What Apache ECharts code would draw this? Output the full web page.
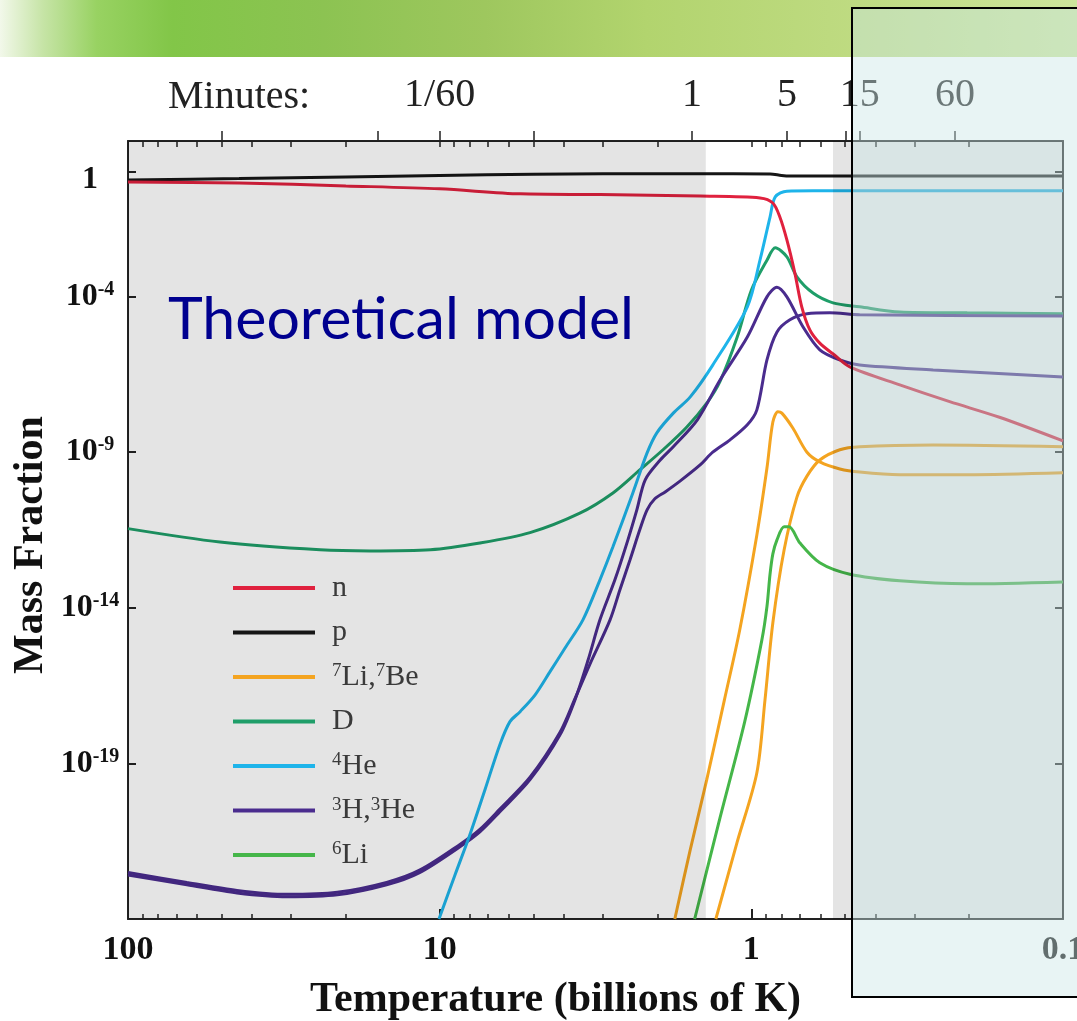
<!DOCTYPE html>
<html><head><meta charset="utf-8">
<script src="https://cdn.jsdelivr.net/npm/echarts@6/dist/echarts.min.js"></script>
<style>html,body{margin:0;padding:0;background:#fff}#c{width:1077px;height:1021px}</style>
</head><body><div id="c"></div>
<script>
// ---- axis ticks / labels ----
const tempTickValues = [100, 10, 1, 0.1];
const tempTickLabels = ['100', '10', '1', '0.1'];
const tempMinorTicks = [90,80,70,60,50,40,30,20, 9,8,7,6,5,4,3,2, 0.9,0.8,0.7,0.6,0.5,0.4,0.3,0.2];
const massTickValues = [1, 1e-4, 1e-9, 1e-14, 1e-19];
const massTickExponents = ['', '-4', '-9', '-14', '-19'];
const minuteLabels = ['1/60', '1', '5', '15', '60'];
const minuteTemps = [10.0, 1.55, 0.769, 0.449, 0.222];
const minuteMinorTemps = [49.9, 15.8, 4.98, 0.498];
const shadeBands = [[100, 1.4], [0.547, 0.1]];

// ---- series: [temperature (GK), mass fraction] ----
const nData = [[100,0.48],[44,0.45],[20,0.36],[10,0.29],[5.5,0.2],[3.06,0.19],[1.46,0.17],[0.938,0.148],[0.853,0.102],[0.81,0.036],[0.769,6.6e-3],[0.725,5.7e-4],[0.689,4.7e-5],[0.649,8.5e-6],[0.603,3.2e-6],[0.54,1.3e-6],[0.483,5.5e-7],[0.334,1.45e-7],[0.231,4.2e-8],[0.159,1.3e-8],[0.1,2.3e-9]];
const pData = [[100,0.56],[44,0.62],[20,0.7],[10,0.78],[5,0.85],[3,0.88],[1.5,0.88],[0.87,0.87],[0.8,0.78],[0.75,0.75],[0.1,0.75]];
const li7aData = [[1.76,1e-24],[1.57,1.7e-22],[1.39,3.0e-20],[1.22,1.1e-17],[1.09,1.9e-15],[0.96,2.2e-12],[0.891,3.1e-10],[0.853,9.3e-9],[0.822,2.0e-8],[0.798,1.8e-8],[0.736,6.0e-9],[0.663,1.0e-9],[0.603,4.9e-10],[0.52,2.9e-10],[0.449,2.3e-10],[0.334,1.9e-10],[0.203,1.9e-10],[0.1,2.2e-10]];
const be7Data = [[1.30,1e-24],[1.11,3.0e-22],[0.96,5.0e-20],[0.904,1.1e-17],[0.853,3.3e-15],[0.785,7.2e-13],[0.714,3.6e-11],[0.663,1.7e-10],[0.603,5.6e-10],[0.52,1.2e-9],[0.449,1.5e-9],[0.261,1.7e-9],[0.1,1.5e-9]];
const dData = [[100,3.5e-12],[50.7,1.3e-12],[24.2,7.3e-13],[16.7,6.7e-13],[10.7,7.3e-13],[7.43,1.2e-12],[5.13,2.6e-12],[3.55,1.1e-11],[2.78,4.9e-11],[2.28,2.7e-10],[1.92,1.2e-9],[1.61,6.5e-9],[1.39,3.8e-8],[1.26,1.9e-7],[1.11,5.0e-6],[1.0,1.6e-4],[0.89,1.5e-3],[0.838,3.7e-3],[0.769,1.9e-3],[0.714,4.3e-4],[0.634,1.3e-4],[0.547,6.3e-5],[0.449,4.7e-5],[0.334,3.2e-5],[0.203,3.0e-5],[0.1,2.8e-5]];
const he4Data = [[10.05,1e-24],[8.93,2.6e-23],[8.0,5.1e-22],[7.16,1.4e-20],[6.41,4.0e-19],[5.95,2.2e-18],[5.52,4.6e-18],[4.94,1.6e-17],[4.43,8.7e-17],[3.96,5.1e-16],[3.47,4.1e-15],[3.06,7.9e-14],[2.78,9.1e-13],[2.40,4.9e-11],[2.16,9.5e-10],[2.01,4.2e-9],[1.78,1.8e-8],[1.57,6.0e-8],[1.33,6.3e-7],[1.03,4.7e-5],[0.938,1.5e-3],[0.871,0.036],[0.838,0.16],[0.769,0.245],[0.634,0.25],[0.1,0.25]];
const h3Data = [[100,2.6e-23],[64.7,1.26e-23],[44.7,6.9e-24],[30.9,5.2e-24],[21.3,6.0e-24],[14.8,1.26e-23],[11.6,3.1e-23],[8.61,2.1e-22],[7.43,6.3e-22],[6.41,2.8e-21],[5.13,3.0e-20],[4.11,8.3e-19],[3.68,1.1e-17],[3.34,2.1e-16],[3.06,4.1e-15],[2.74,7.9e-14],[2.49,1.5e-12],[2.33,1.4e-11],[2.19,1.3e-10],[1.96,5.6e-10],[1.78,1.5e-9],[1.49,1.1e-8],[1.26,2.1e-7],[1.03,5.0e-6],[0.891,9.8e-5],[0.828,2.0e-4],[0.769,9.8e-5],[0.683,1.07e-5],[0.603,1.95e-6],[0.52,9.2e-7],[0.449,6.3e-7],[0.261,4.4e-7],[0.1,2.6e-7]];
const he3Data = [[100,3.1e-23],[64.7,1.5e-23],[44.7,8.3e-24],[30.9,6.2e-24],[21.3,7.2e-24],[14.8,1.5e-23],[11.6,3.7e-23],[8.61,2.5e-22],[7.43,7.6e-22],[6.41,3.4e-21],[5.13,3.6e-20],[4.11,1.0e-18],[3.68,1.2e-17],[3.30,1.5e-16],[2.84,4.1e-15],[2.64,3.8e-14],[2.45,3.5e-13],[2.28,3.2e-12],[2.16,1.4e-11],[2.04,3.2e-11],[1.89,5.3e-11],[1.69,1.2e-10],[1.46,3.9e-10],[1.33,1.0e-9],[1.17,2.5e-9],[1.03,7.6e-9],[0.96,2.3e-8],[0.891,9.2e-7],[0.828,7.2e-6],[0.752,1.8e-5],[0.663,2.8e-5],[0.56,3.0e-5],[0.449,2.6e-5],[0.1,2.4e-5]];
const li6Data = [[1.52,1e-24],[1.26,1.8e-21],[1.05,2.2e-18],[0.925,9.3e-16],[0.891,1.1e-14],[0.871,1.2e-13],[0.853,5.4e-13],[0.828,1.5e-12],[0.785,4.0e-12],[0.757,4.0e-12],[0.698,1.2e-12],[0.603,2.8e-13],[0.483,1.2e-13],[0.334,7.4e-14],[0.203,5.9e-14],[0.1,6.8e-14]];

const legendNames = ['n', 'p', 'Li7', 'D', 'He4', 'H3', 'Li6'];
const legendTexts = {
  n: '{t|n}', p: '{t|p}', Li7: '{s|7}{t|Li,}{s|7}{t|Be}', D: '{t|D}',
  He4: '{s|4}{t|He}', H3: '{s|3}{t|H,}{s|3}{t|He}', Li6: '{s|6}{t|Li}'
};
const colors = { n:'#e0213e', p:'#161616', Li7:'#f4a420', D:'#1f9e69', He4:'#1eb4ea', H3:'#4a2c8e', Li6:'#45b649' };

const SERIF = '"Liberation Serif", "DejaVu Serif", serif';

function lineSeries(name, data) {
  return { type: 'line', name, data, showSymbol: false, symbol: 'none', smooth: 0.3,
    lineStyle: { color: colors[name], width: 3 }, itemStyle: { color: colors[name] },
    z: 2, animation: false, clip: true };
}

function nearIdx(arr, v) {
  return arr.findIndex(t => Math.abs(Math.log10(t) - Math.log10(v)) < 1e-4);
}

const xCommon = { type: 'log', logBase: 10, min: 0.1, max: 100, inverse: true,
  splitLine: { show: false }, minorTick: { show: false }, minorSplitLine: { show: false },
  nameMoveOverlap: false };
const yCommon = { type: 'log', logBase: 10, min: 1e-24, max: 10,
  splitLine: { show: false }, minorTick: { show: false }, minorSplitLine: { show: false },
  nameMoveOverlap: false };
const lineSt = { color: '#222', width: 2 };

const chart = echarts.init(document.getElementById('c'), null, { renderer: 'canvas' });
chart.setOption({
  animation: false,
  backgroundColor: '#ffffff',
  grid: { left: 128, right: 14, top: 141, bottom: 102, outerBoundsMode: 'none', containLabel: false },
  legend: {
    orient: 'vertical', left: 233, top: 573, padding: 0, data: legendNames,
    icon: 'rect', itemWidth: 82, itemHeight: 4, itemGap: 14.5,
    selectedMode: false,
    formatter: name => legendTexts[name],
    textStyle: {
      fontFamily: SERIF, fontSize: 30, color: '#3a3a3a', padding: [0, 0, 0, 12],
      rich: {
        t: { fontFamily: SERIF, fontSize: 30, lineHeight: 30, color: '#3a3a3a' },
        s: { fontFamily: SERIF, fontSize: 19, lineHeight: 19, color: '#3a3a3a', verticalAlign: 'top' }
      }
    }
  },
  xAxis: [
    { ...xCommon, position: 'bottom',
      axisLine: { show: true, onZero: false, lineStyle: lineSt },
      axisTick: { show: true, inside: true, length: 10, customValues: tempTickValues, lineStyle: lineSt },
      axisLabel: { show: true, customValues: tempTickValues, margin: 14,
        formatter: v => tempTickLabels[nearIdx(tempTickValues, v)] || '',
        fontFamily: SERIF, fontWeight: 'bold', fontSize: 34, color: '#111' },
      name: 'Temperature (billions of K)', nameLocation: 'middle', nameGap: 60,
      nameTextStyle: { fontFamily: SERIF, fontWeight: 'bold', fontSize: 42, color: '#111', padding: [0, 80, 0, 0] } },
    { ...xCommon, position: 'bottom',
      axisLine: { show: false, onZero: false },
      axisTick: { show: true, inside: true, length: 5, customValues: tempMinorTicks, lineStyle: { color: '#222', width: 1.5 } },
      axisLabel: { show: false } },
    { ...xCommon, position: 'top',
      axisLine: { show: true, onZero: false, lineStyle: lineSt },
      axisTick: { show: true, inside: true, length: 6, customValues: tempMinorTicks.concat(tempTickValues), lineStyle: { color: '#222', width: 1.5 } },
      axisLabel: { show: false } },
    { ...xCommon, position: 'top',
      axisLine: { show: false, onZero: false },
      axisTick: { show: true, inside: false, length: 10, customValues: minuteTemps.concat(minuteMinorTemps), lineStyle: { color: '#222', width: 1.5 } },
      axisLabel: { show: true, customValues: minuteTemps, margin: 26,
        formatter: v => minuteLabels[nearIdx(minuteTemps, v)] || '',
        fontFamily: SERIF, fontSize: 40, color: '#222' } }
  ],
  yAxis: [
    { ...yCommon, position: 'left',
      axisLine: { show: true, onZero: false, lineStyle: lineSt },
      axisTick: { show: true, inside: true, length: 8, customValues: massTickValues, lineStyle: lineSt },
      axisLabel: { show: true, customValues: massTickValues, margin: 38, align: 'center',
        formatter: v => { const i = nearIdx(massTickValues, v); if (i < 0) return ''; const e = massTickExponents[i]; return e ? '{b|10}{s|' + e + '}' : '{o|1}'; },
        rich: {
          b: { fontFamily: SERIF, fontWeight: 'bold', fontSize: 32, lineHeight: 34, color: '#111' },
          o: { fontFamily: SERIF, fontWeight: 'bold', fontSize: 32, lineHeight: 34, color: '#111', padding: [16, 0, 0, 0] },
          s: { fontFamily: SERIF, fontWeight: 'bold', fontSize: 20, lineHeight: 20, color: '#111', verticalAlign: 'top' }
        } },
      name: 'Mass Fraction', nameLocation: 'middle', nameGap: 76, nameRotate: 90,
      nameTextStyle: { fontFamily: SERIF, fontWeight: 'bold', fontSize: 42, color: '#111', padding: [0, 30, 0, 0] } },
    { ...yCommon, position: 'right',
      axisLine: { show: true, onZero: false, lineStyle: lineSt },
      axisTick: { show: true, inside: true, length: 8, customValues: massTickValues, lineStyle: lineSt },
      axisLabel: { show: false } }
  ],
  series: [
    lineSeries('p', pData),
    lineSeries('D', dData),
    lineSeries('H3', h3Data),
    lineSeries('H3', he3Data),
    lineSeries('Li7', li7aData),
    lineSeries('Li7', be7Data),
    lineSeries('Li6', li6Data),
    lineSeries('He4', he4Data),
    lineSeries('n', nData),
    { type: 'custom', name: 'shade', data: shadeBands, encode: { x: [0, 1] }, z: 3, silent: true,
      clip: true, animation: false,
      renderItem: (params, api) => {
        const cs = params.coordSys;
        const x1 = api.coord([api.value(0), 1])[0];
        const x2 = api.coord([api.value(1), 1])[0];
        return { type: 'rect', shape: { x: Math.min(x1, x2), y: cs.y, width: Math.abs(x2 - x1), height: cs.height },
          style: { fill: 'rgba(0,0,0,0.105)' } };
      } }
  ],
  graphic: [
    { type: 'rect', silent: true, z: -1, shape: { x: 0, y: 0, width: 1077, height: 57 },
      style: { fill: new echarts.graphic.LinearGradient(0, 0, 1, 0, [
        { offset: 0, color: '#f2f8ea' }, { offset: 0.04, color: '#c6e4a6' }, { offset: 0.09, color: '#98d262' },
        { offset: 0.16, color: '#82c648' }, { offset: 0.3, color: '#8cc352' }, { offset: 0.45, color: '#9ec75e' },
        { offset: 0.6, color: '#b2d46e' }, { offset: 0.8, color: '#bfdb82' }, { offset: 1, color: '#cde59c' }]) } },
    { type: 'text', x: 168, y: 97, z: 50, silent: true,
      style: { text: 'Minutes:', font: '40px "Liberation Serif"', fill: '#222', verticalAlign: 'middle' } },
    { type: 'text', x: 168, y: 320, z: 50, silent: true,
      style: { text: 'Theoretical model', font: '59px Lato', fill: '#00008f', verticalAlign: 'middle' } },
    { type: 'rect', z: 100, silent: true, shape: { x: 852, y: 8, width: 300, height: 989 },
      style: { fill: 'rgba(203,230,230,0.44)', stroke: '#000', lineWidth: 2 } }
  ]
});
</script></body></html>
